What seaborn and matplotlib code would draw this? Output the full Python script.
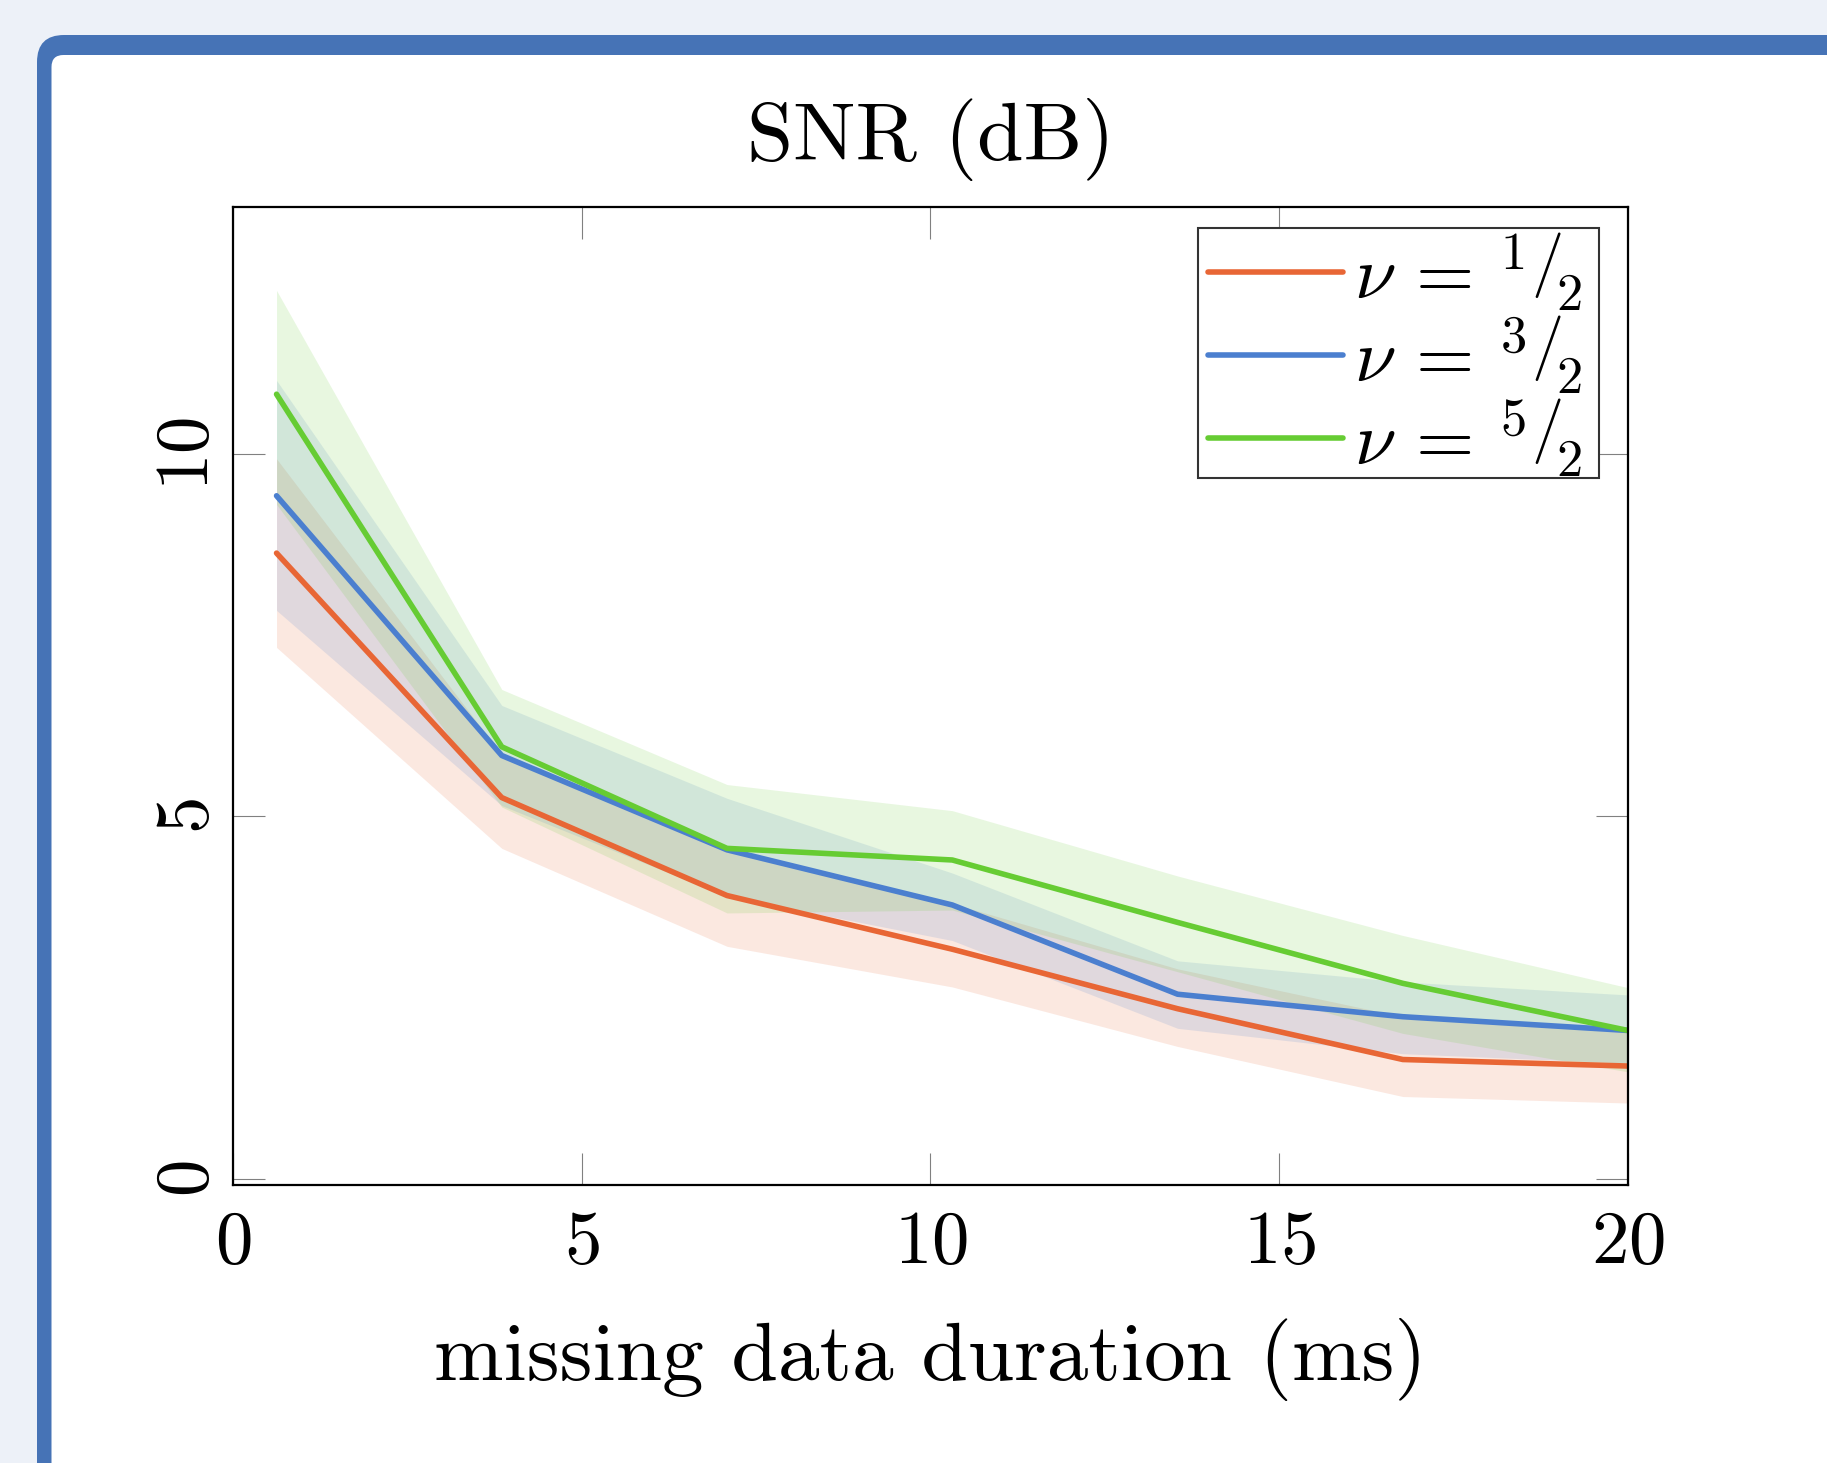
import numpy as np
import pandas as pd
import seaborn as sns
import matplotlib.pyplot as plt
from matplotlib.patches import FancyBboxPatch, Rectangle

# -----------------------------
# Data
# -----------------------------
duration = [0.625, 3.854, 7.083, 10.313, 13.542, 16.771, 20.0]

nu_labels = [r'$\nu\,=\,\left.{}^{1}\right/\!{}_{2}$',
             r'$\nu\,=\,\left.{}^{3}\right/\!{}_{2}$',
             r'$\nu\,=\,\left.{}^{5}\right/\!{}_{2}$']

snr_half = [8.63, 5.26, 3.91, 3.17, 2.35, 1.65, 1.56]
low_half = [7.33, 4.56, 3.21, 2.65, 1.83, 1.14, 1.05]
up_half = [9.93, 5.85, 4.54, 3.80, 2.90, 2.24, 2.05]

snr_3half = [9.42, 5.84, 4.54, 3.78, 2.55, 2.24, 2.05]
low_3half = [7.84, 5.15, 3.90, 3.29, 2.08, 1.73, 1.60]
up_3half = [11.01, 6.53, 5.25, 4.22, 3.01, 2.72, 2.54]

snr_5half = [10.82, 5.96, 4.56, 4.40, 3.54, 2.70, 2.05]
low_5half = [9.30, 5.13, 3.67, 3.71, 2.86, 2.01, 1.48]
up_5half = [12.25, 6.75, 5.44, 5.08, 4.18, 3.36, 2.64]

colors = ['#E86635', '#4B7FCF', '#66CC33']

means = [snr_half, snr_3half, snr_5half]
lows = [low_half, low_3half, low_5half]
ups = [up_half, up_3half, up_5half]

# -----------------------------
# Style
# -----------------------------
sns.set_theme(style="ticks")
plt.rcParams['font.family'] = ['cmr10', 'DejaVu Serif']
plt.rcParams['mathtext.fontset'] = 'cm'
plt.rcParams['axes.formatter.use_mathtext'] = True
plt.rcParams['axes.unicode_minus'] = False
plt.rcParams['text.color'] = 'black'
plt.rcParams['axes.labelcolor'] = 'black'
plt.rcParams['xtick.labelcolor'] = 'black'
plt.rcParams['ytick.labelcolor'] = 'black'

fig = plt.figure(figsize=(18.27, 14.63), dpi=100)
fig.patch.set_facecolor('#EDF1F8')

# card background with blue rounded border
bg = fig.add_axes([0, 0, 1, 1], zorder=-10)
bg.set_xlim(0, 1827)
bg.set_ylim(1463, 0)
bg.axis('off')
bg.add_patch(FancyBboxPatch((37, 35), 1900, 1500,
                            boxstyle='round,pad=0,rounding_size=27',
                            fc='#4673B6', ec='none'))
bg.add_patch(FancyBboxPatch((51.5, 55), 1900, 1500,
                            boxstyle='round,pad=0,rounding_size=12',
                            fc='white', ec='none'))

ax = fig.add_axes([0.1275, 0.190, 0.7636, 0.6685])
ax.set_facecolor('white')

# -----------------------------
# Bands + mean lines
# -----------------------------
for lo, up, c in zip(lows, ups, colors):
    ax.fill_between(duration, lo, up, color=c, alpha=0.15, lw=0)

for m, c, lab in zip(means, colors, nu_labels):
    sns.lineplot(x=duration, y=m, color=c, lw=4.0, label=lab, ax=ax,
                 solid_capstyle='round')

ax.set_xlim(0, 20)
ax.set_ylim(-0.08, 13.4)
ax.set_xticks([0, 5, 10, 15, 20])
ax.set_yticks([0, 5, 10])

ax.tick_params(direction='in', length=23, width=0.8, color='#808080',
               top=True, right=True, labelsize=54, pad=18)
ax.tick_params(axis='y', labelrotation=90, pad=7)
for t in ax.get_yticklabels():
    t.set_va('center')

for s in ax.spines.values():
    s.set_linewidth(1.6)
    s.set_color('black')

ax.set_title('SNR (dB)', fontsize=60, pad=34)
ax.set_xlabel('missing data duration (ms)', fontsize=60, labelpad=29)
ax.set_ylabel('')

# legend: entries without frame, box drawn separately for wider side padding
leg = ax.legend(loc='upper right', bbox_to_anchor=(0.967, 0.976),
                borderaxespad=0, fontsize=54, frameon=False,
                handlelength=1.8, handletextpad=0.15, labelspacing=0.0,
                borderpad=0.0)
leg.set_zorder(6)
for h in leg.get_lines():
    h.set_linewidth(4.0)
ax.add_patch(Rectangle((0.6918, 0.7229), 0.2874, 0.2556,
                       transform=ax.transAxes, fc='white', ec='#333333',
                       lw=1.5, zorder=5, clip_on=False))

fig.savefig('out.png', dpi=100, facecolor=fig.get_facecolor())
